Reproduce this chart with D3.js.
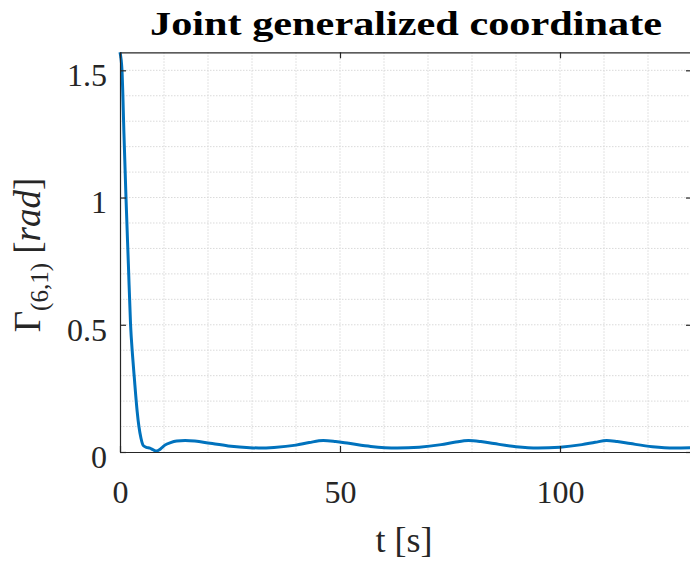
<!DOCTYPE html>
<html>
<head>
<meta charset="utf-8">
<script src="https://cdn.jsdelivr.net/npm/d3@7"></script>
<style>
  html, body { margin: 0; padding: 0; background: #fff; }
  svg { display: block; }
  svg text { font-family: "Liberation Serif", "Times New Roman", Times, serif; fill: #262626; }
</style>
</head>
<body>
<svg id="chart" width="690" height="566"></svg>
<script>
// Joint angle Γ(6,1) over time [s]
const timeS = [0, 0.45, 0.9, 1.36, 1.9, 2.4, 2.85, 3.26, 3.9, 4.3, 4.77, 5.3, 6.0, 6.8, 7.6, 8.3, 9.2, 10.2, 11.5, 12.9, 14.8, 17, 20.5, 24.6, 29.5, 31.5, 35, 40, 43, 46.2, 49, 52, 57, 63, 68, 73, 76, 79.2, 82, 85, 90, 95, 100, 105, 108, 110.6, 113, 116, 121, 126, 130];
const gammaRad = [1.571, 1.5, 1.25, 1.0, 0.74, 0.5, 0.38, 0.29, 0.16, 0.1, 0.054, 0.025, 0.018, 0.015, 0.008, 0.004, 0.012, 0.027, 0.037, 0.043, 0.045, 0.043, 0.034, 0.024, 0.017, 0.016, 0.018, 0.027, 0.037, 0.045, 0.041, 0.034, 0.022, 0.016, 0.019, 0.029, 0.038, 0.045, 0.041, 0.033, 0.021, 0.016, 0.019, 0.029, 0.038, 0.045, 0.041, 0.033, 0.021, 0.016, 0.017];

const xTicks = [0, 50, 100];
const yTicks = [0, 0.5, 1, 1.5];
const xTickLabels = ["0", "50", "100"];
const yTickLabels = ["0", "0.5", "1", "1.5"];
const xMinorGrid = d3.range(10, 131, 10);
const yMinorGrid = d3.range(0.1, 1.571, 0.1);

const serif = '"Liberation Serif", "Times New Roman", Times, serif';
const margin = { left: 120, top: 52.3, right: 692, bottom: 452 };
const svg = d3.select("#chart");

const x = d3.scaleLinear().domain([0, 130]).range([margin.left, margin.right]);
const y = d3.scaleLinear().domain([0, Math.PI / 2]).range([margin.bottom, margin.top]);

// grid
const grid = svg.append("g");
grid.selectAll(".gx").data(xMinorGrid).join("line")
  .attr("x1", d => x(d)).attr("x2", d => x(d))
  .attr("y1", margin.top).attr("y2", margin.bottom)
  .attr("stroke", "#dadada").attr("stroke-width", 1).attr("stroke-dasharray", "1.5,1.5");
grid.selectAll(".gy").data(yMinorGrid).join("line")
  .attr("x1", margin.left).attr("x2", margin.right)
  .attr("y1", d => y(d)).attr("y2", d => y(d))
  .attr("stroke", "#dadada").attr("stroke-width", 1).attr("stroke-dasharray", "1.5,1.5");

// series
const line = d3.line().x((d, i) => x(timeS[i])).y(d => y(d)).curve(d3.curveMonotoneX);
svg.append("path").datum(gammaRad)
  .attr("d", line)
  .attr("fill", "none").attr("stroke", "#0072BD").attr("stroke-width", 3)
  .attr("stroke-linejoin", "round");

// axes (ticks point inward, box on all sides)
const tickLen = 6;
function styleAxis(g) {
  g.attr("font-family", null);
  g.select(".domain").attr("stroke", "#262626").attr("stroke-width", 1.2);
  g.selectAll(".tick line").attr("stroke", "#262626").attr("stroke-width", 1.2);
}
const fmtX = d => xTickLabels[xTicks.indexOf(d)];
const fmtY = d => yTickLabels[yTicks.indexOf(d)];

svg.append("g").attr("transform", `translate(0,${margin.bottom})`)
  .call(d3.axisBottom(x).tickValues(xTicks).tickSizeInner(-tickLen).tickSizeOuter(0).tickPadding(28).tickFormat(fmtX))
  .call(styleAxis)
  .call(g => g.selectAll(".tick text").attr("font-size", 32).style("font-family", serif).attr("fill", "#262626"));

svg.append("g").attr("transform", `translate(0,${margin.top})`)
  .call(d3.axisTop(x).tickValues(xTicks).tickSizeInner(-tickLen).tickSizeOuter(0).tickFormat(""))
  .call(styleAxis);

svg.append("g").attr("transform", `translate(${margin.left},0)`)
  .call(d3.axisLeft(y).tickValues(yTicks).tickSizeInner(-tickLen).tickSizeOuter(0).tickPadding(13).tickFormat(fmtY))
  .call(styleAxis)
  .call(g => g.selectAll(".tick text").attr("font-size", 32).attr("dy", "0.48em").style("font-family", serif).attr("fill", "#262626"));

svg.append("g").attr("transform", `translate(${margin.right},0)`)
  .call(d3.axisRight(y).tickValues(yTicks).tickSizeInner(-tickLen).tickSizeOuter(0).tickFormat(""))
  .call(styleAxis);

// title
svg.append("text")
  .attr("x", (margin.left + margin.right) / 2).attr("y", 35)
  .attr("text-anchor", "middle")
  .attr("font-size", 33).attr("font-weight", "bold")
  .style("font-family", serif).style("fill", "#000")
  .attr("textLength", 512).attr("lengthAdjust", "spacingAndGlyphs")
  .text("Joint generalized coordinate");

// x label
svg.append("text")
  .attr("x", 404).attr("y", 552)
  .attr("text-anchor", "middle")
  .attr("font-size", 36).style("font-family", serif)
  .text("t [s]");

// y label
const yl = svg.append("text")
  .attr("transform", "translate(40,255) rotate(-90)")
  .attr("text-anchor", "middle")
  .attr("font-size", 37).style("font-family", serif);
yl.append("tspan").text("Γ");
yl.append("tspan").attr("font-size", 25).attr("dy", 8).text("(6,1)");
yl.append("tspan").attr("dy", -8).text(" [");
yl.append("tspan").attr("font-style", "italic").text("rad");
yl.append("tspan").text("]");
</script>
</body>
</html>
